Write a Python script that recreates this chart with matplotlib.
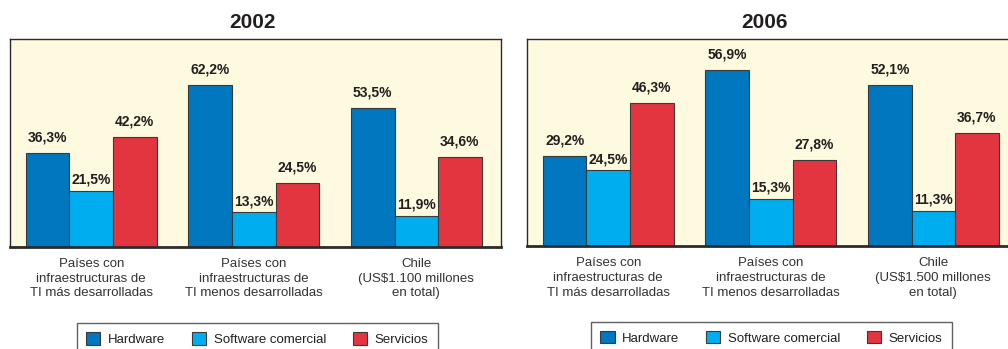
import numpy as np
import matplotlib
matplotlib.use("Agg")
import matplotlib.pyplot as plt

plt.rcParams['font.family'] = ['Liberation Sans', 'DejaVu Sans']

series = ["Hardware", "Software comercial", "Servicios"]
colors = ["#0077bf", "#00aeef", "#e2353f"]

labels_2002 = ["Países con\ninfraestructuras de\nTI más desarrolladas",
               "Países con\ninfraestructuras de\nTI menos desarrolladas",
               "Chile\n(US$1.100 millones\nen total)"]
labels_2006 = ["Países con\ninfraestructuras de\nTI más desarrolladas",
               "Países con\ninfraestructuras de\nTI menos desarrolladas",
               "Chile\n(US$1.500 millones\nen total)"]

hardware_2002 = [36.3, 62.2, 53.5]
software_2002 = [21.5, 13.3, 11.9]
servicios_2002 = [42.2, 24.5, 34.6]

hardware_2006 = [29.2, 56.9, 52.1]
software_2006 = [24.5, 15.3, 11.3]
servicios_2006 = [46.3, 27.8, 36.7]

text_color = "#231f20"
bg = "#fefadf"


def draw_panel(ax, title, labels, values, ymax, title_x, leg_x):
	x_pos = np.arange(len(labels))
	width = 0.268
	for i, vals in enumerate(values):
		bars = ax.bar(x_pos + (i - 1) * width, vals, width=width, color=colors[i],
					  edgecolor="#3a3a3a", linewidth=0.8, label=series[i], zorder=2)
		offset = 3 if i == 1 else 6
		for bar, v in zip(bars, vals):
			ax.annotate(f"{v:.1f}%".replace(".", ","),
						(bar.get_x() + bar.get_width() / 2, v),
						xytext=(0, offset), textcoords="offset points",
						ha="center", va="bottom", fontsize=10, fontweight="bold",
						color=text_color)

	ax.set_facecolor(bg)
	ax.set_xlim(-0.5, 2.52)
	ax.set_ylim(0, ymax)
	ax.set_yticks([])
	ax.set_xticks(x_pos)
	ax.set_xticklabels(labels, fontsize=9.5, color="#333333", linespacing=1.3)
	ax.tick_params(axis="x", length=0, pad=8)
	for side in ["top", "left", "right"]:
		ax.spines[side].set_linewidth(1.0)
		ax.spines[side].set_color("#2b2b2b")
	ax.spines["bottom"].set_linewidth(2.0)
	ax.spines["bottom"].set_color("#2b2b2b")
	ax.set_title(title, fontsize=15, fontweight="bold", color=text_color, pad=8, x=title_x)

	# legend box sits under the panel, partly cut off by the figure edge
	leg = ax.legend(ncol=3, loc="upper left", bbox_to_anchor=(leg_x, -0.465, 0.735, 0.1),
					mode="expand", fontsize=9.5, frameon=True, fancybox=False,
					handlelength=1.1, handleheight=1.1, handletextpad=0.55,
					borderpad=0.7, borderaxespad=0)
	leg.get_frame().set_edgecolor("#3a3a3a")
	leg.get_frame().set_linewidth(1.0)
	for t in leg.get_texts():
		t.set_color(text_color)


fig = plt.figure(figsize=(10.08, 3.49), dpi=100)
ax1 = fig.add_axes([0.0099, 0.2923, 0.487, 0.596])
ax2 = fig.add_axes([0.5228, 0.2951, 0.487, 0.593])

draw_panel(ax1, "2002", labels_2002, [hardware_2002, software_2002, servicios_2002], 80, 0.495, 0.136)
draw_panel(ax2, "2006", labels_2006, [hardware_2006, software_2006, servicios_2006], 67, 0.483, 0.130)

fig.savefig("out.png", dpi=100)
